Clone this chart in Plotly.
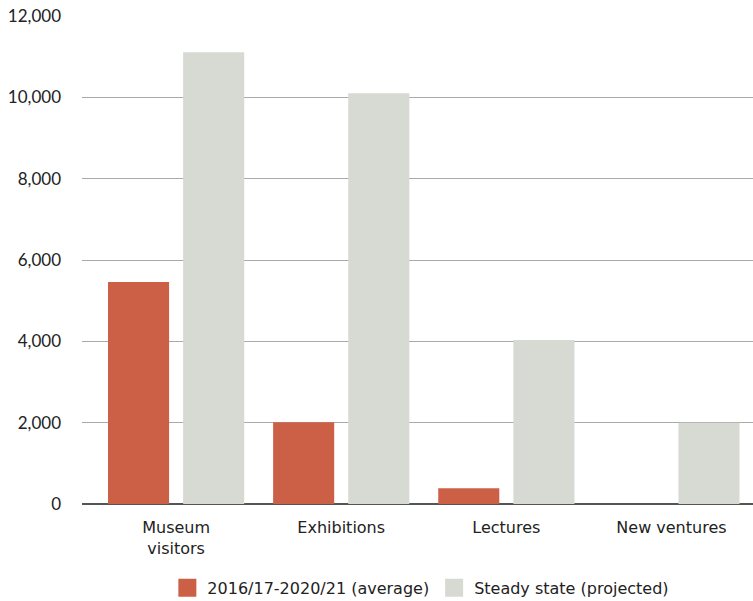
import plotly.graph_objects as go

categories = ["Museum<br>visitors", "Exhibitions", "Lectures", "New ventures"]
series_avg_name = "2016/17-2020/21 (average)"
series_avg = [5460, 2010, 390, 0]
series_proj_name = "Steady state (projected)"
series_proj = [11110, 10100, 4030, 2000]
y_ticks = [0, 2000, 4000, 6000, 8000, 10000, 12000]
y_tick_labels = ["0", "2,000", "4,000", "6,000", "8,000", "10,000", "12,000"]

RED = "#CC6047"
GRAY = "#D7DAD3"
TEXT_FONT = "'DejaVu Sans', sans-serif"
NUM_FONT = "Lato, sans-serif"

xs = list(range(len(categories)))
fig = go.Figure()
fig.add_trace(go.Bar(x=xs, y=series_avg, name=series_avg_name, showlegend=False,
                     marker=dict(color=RED, line=dict(width=0))))
fig.add_trace(go.Bar(x=xs, y=series_proj, name=series_proj_name, showlegend=False,
                     marker=dict(color=GRAY, line=dict(width=0))))
# legend entries with larger square swatches
for name, col in [(series_avg_name, RED), (series_proj_name, GRAY)]:
    fig.add_trace(go.Scatter(x=[None], y=[None], mode="markers", name=name,
                             marker=dict(symbol="square", size=16, color=col,
                                         line=dict(color=col, width=2))))

fig.update_layout(
    width=753, height=601,
    margin=dict(l=82, r=0, t=16, b=97, autoexpand=False),
    paper_bgcolor="white", plot_bgcolor="white",
    font=dict(family=TEXT_FONT, size=16, color="#222222"),
    barmode="group", bargap=0.09, bargroupgap=0.187,
    showlegend=True,
    legend=dict(orientation="h", x=0.505, xanchor="center", y=-0.172, yanchor="middle",
                font=dict(family=TEXT_FONT, size=16, color="#222222"),
                itemsizing="trace", traceorder="normal"),
    xaxis=dict(range=[-0.57, 3.494], tickmode="array",
               tickvals=xs, ticktext=categories,
               showgrid=False, zeroline=False, showline=False, ticks="",
               ticklabelstandoff=12),
    yaxis=dict(range=[0, 12000], tickmode="array", tickvals=y_ticks, ticktext=y_tick_labels,
               tickfont=dict(family=NUM_FONT, size=17, color="#222222"),
               showgrid=True, gridcolor="#AAAAAA", gridwidth=1,
               zeroline=True, zerolinecolor="#555555", zerolinewidth=1.5,
               showline=False, ticks="", ticklabelstandoff=20),
)

fig.write_html("out.html")
